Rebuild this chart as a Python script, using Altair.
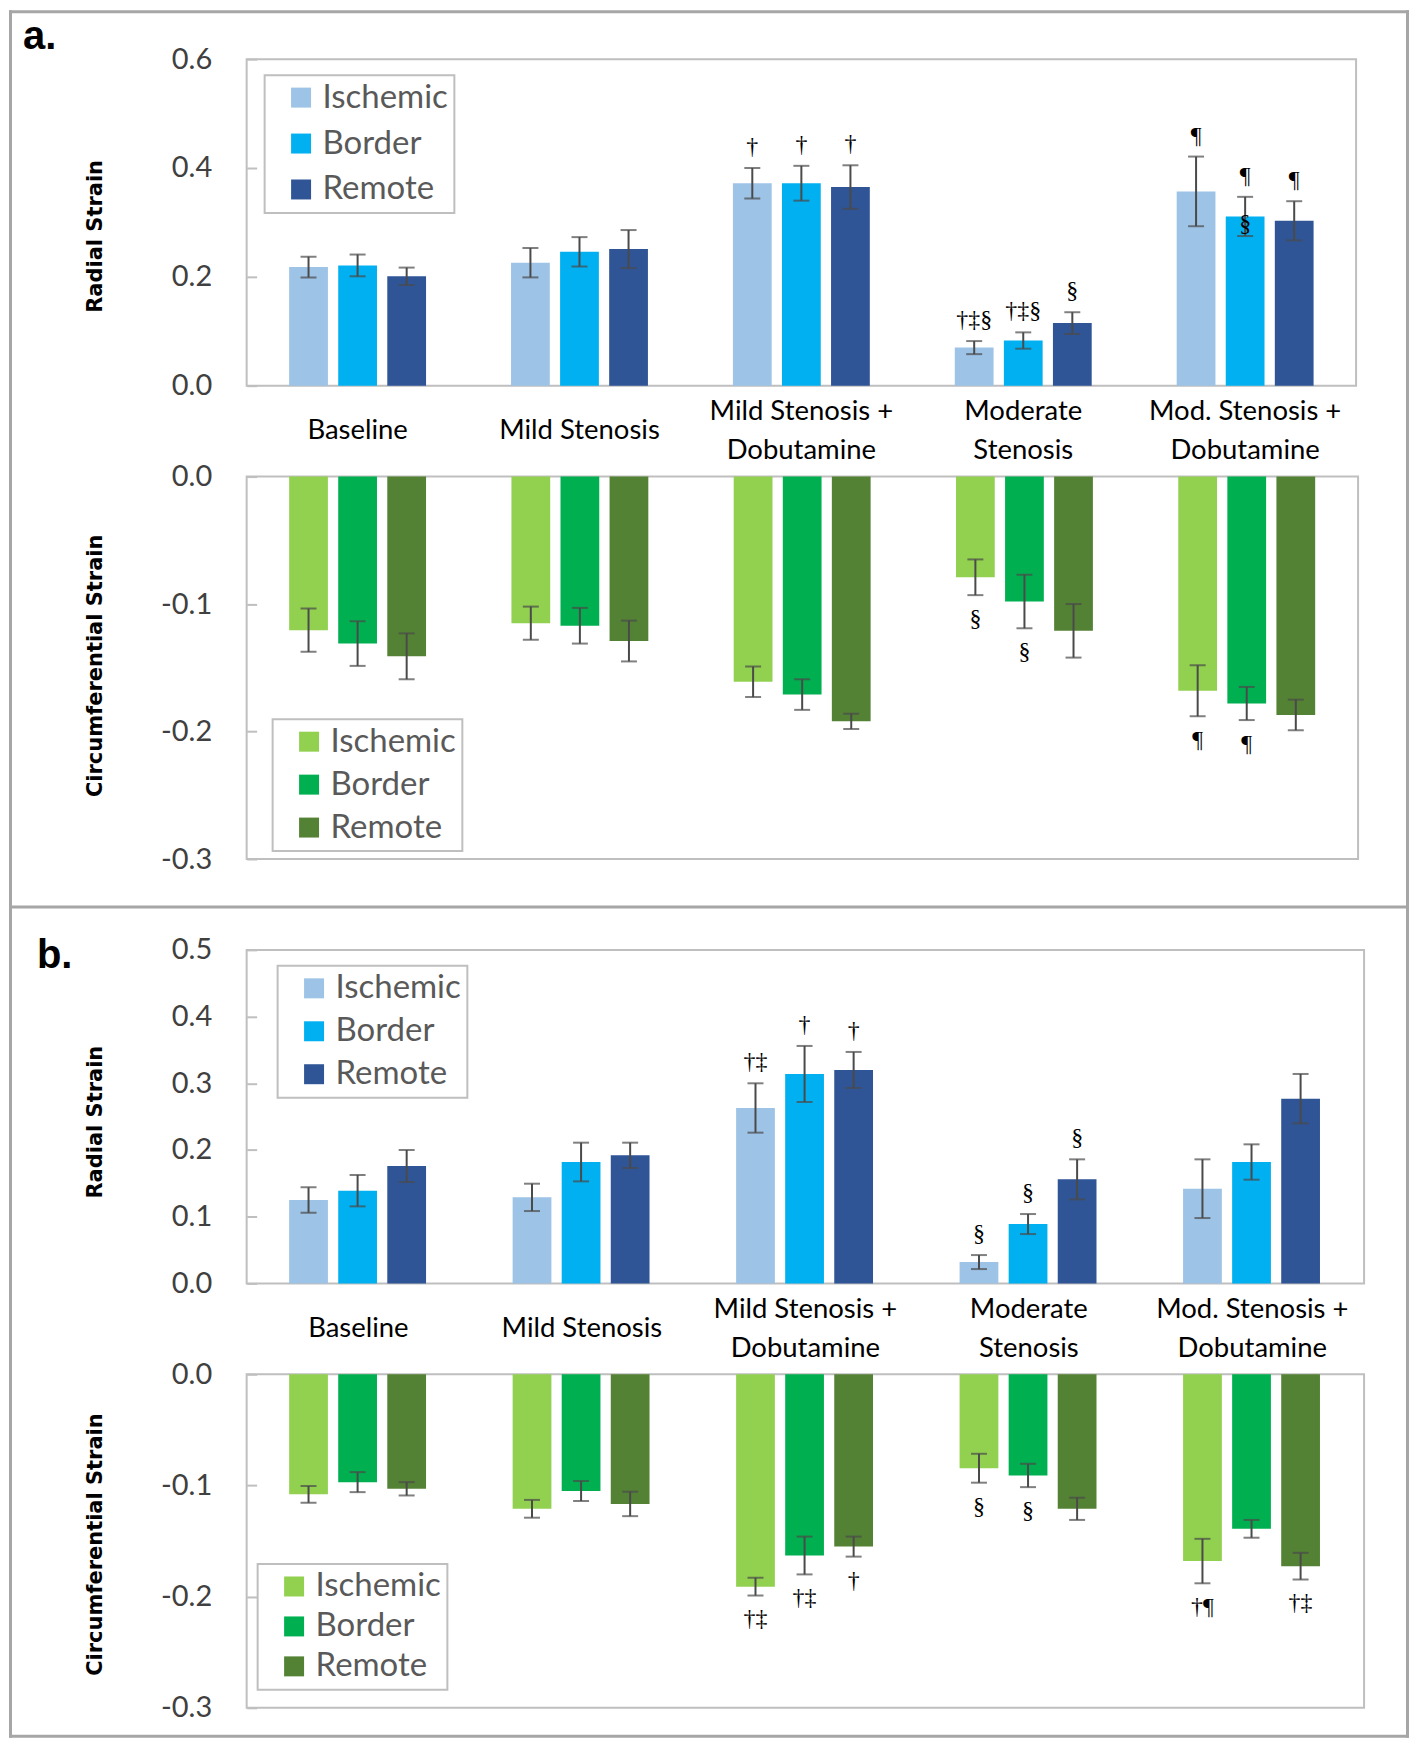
import altair as alt
import pandas as pd

cats = ["Baseline", "Mild Stenosis", "Mild Stenosis +|Dobutamine", "Moderate|Stenosis", "Mod. Stenosis +|Dobutamine"]
regions = ["Ischemic", "Border", "Remote"]

# order: for each category -> Ischemic, Border, Remote
a_rad_mean = [0.218, 0.221, 0.201, 0.226, 0.246, 0.251, 0.372, 0.372, 0.365, 0.070, 0.083, 0.115, 0.357, 0.311, 0.303]
a_rad_err = [0.019, 0.020, 0.016, 0.027, 0.027, 0.035, 0.028, 0.032, 0.040, 0.012, 0.015, 0.020, 0.064, 0.036, 0.036]

a_circ_mean = [-0.1205, -0.131, -0.141, -0.115, -0.117, -0.129, -0.161, -0.171, -0.192, -0.079, -0.098, -0.121, -0.168, -0.178, -0.187]
a_circ_err = [0.017, 0.0175, 0.018, 0.013, 0.014, 0.016, 0.012, 0.012, 0.006, 0.014, 0.021, 0.021, 0.020, 0.013, 0.012]

b_rad_mean = [0.125, 0.139, 0.176, 0.129, 0.182, 0.192, 0.263, 0.314, 0.320, 0.032, 0.089, 0.156, 0.142, 0.182, 0.277]
b_rad_err = [0.019, 0.0235, 0.024, 0.0205, 0.029, 0.019, 0.037, 0.042, 0.027, 0.0105, 0.015, 0.030, 0.044, 0.0265, 0.037]

b_circ_mean = [-0.108, -0.097, -0.103, -0.121, -0.105, -0.1166, -0.191, -0.163, -0.155, -0.0845, -0.091, -0.121, -0.168, -0.139, -0.1726]
b_circ_err = [0.0075, 0.009, 0.006, 0.008, 0.009, 0.011, 0.008, 0.017, 0.009, 0.013, 0.0105, 0.010, 0.020, 0.008, 0.012]

# annotations: (category index, region, symbol text, where)
a_rad_ann = [(2, "Ischemic", "†", "above"), (2, "Border", "†", "above"), (2, "Remote", "†", "above"),
             (3, "Ischemic", "†‡§", "above"), (3, "Border", "†‡§", "above"), (3, "Remote", "§", "above"),
             (4, "Ischemic", "¶", "above"), (4, "Border", "¶", "above"), (4, "Remote", "¶", "above"),
             (4, "Border", "§", "inside")]
a_circ_ann = [(3, "Ischemic", "§", "below"), (3, "Border", "§", "below"),
              (4, "Ischemic", "¶", "below"), (4, "Border", "¶", "below")]
b_rad_ann = [(2, "Ischemic", "†‡", "above"), (2, "Border", "†", "above"), (2, "Remote", "†", "above"),
             (3, "Ischemic", "§", "above"), (3, "Border", "§", "above"), (3, "Remote", "§", "above")]
b_circ_ann = [(2, "Ischemic", "†‡", "below"), (2, "Border", "†‡", "below"), (2, "Remote", "†", "below"),
              (3, "Ischemic", "§", "below"), (3, "Border", "§", "below"),
              (4, "Ischemic", "†¶", "below"), (4, "Remote", "†‡", "below")]

radial_colors = ["#9DC3E6", "#00B0F0", "#2F5597"]
circ_colors = ["#92D050", "#00B050", "#548235"]
ERR = "#4a4a4a"
FRAME = "#bfbfbf"
OUTER = "#a6a6a6"


def make_df(mean, err):
    rows = []
    for i, c in enumerate(cats):
        for j, r in enumerate(regions):
            k = i * 3 + j
            rows.append(dict(cat=c, region=r, mean=mean[k], lo=mean[k] - err[k], hi=mean[k] + err[k]))
    return pd.DataFrame(rows)


def make_ann(ann, df):
    rows = []
    for ci, r, txt, where in ann:
        row = df[(df.cat == cats[ci]) & (df.region == r)].iloc[0]
        y = row.hi if where == "above" else row.lo
        rows.append(dict(cat=cats[ci], region=r, txt=txt, where=where, y=y))
    return pd.DataFrame(rows)


def panel(mean, err, ann, domain, values, colors, width, height, legend_xy, row_pad,
          title, title_y, show_cats, extra=None):
    df = make_df(mean, err)
    adf = make_ann(ann, df)
    xscale = alt.Scale(paddingInner=0, paddingOuter=0)
    if show_cats:
        xaxis = alt.Axis(orient="bottom", title=None, domain=False, ticks=False, tickSize=0,
                         labelAngle=0, labelFont="Lato", labelFontSize=27.5, labelColor="black",
                         labelPadding=26, labelLineHeight=39, labelLimit=0,
                         labelBaseline={"condition": {"test": "indexof(datum.value, '|') >= 0",
                                                      "value": "middle"},
                                        "value": "line-top"},
                         labelExpr="split(datum.label, '|')")
    else:
        xaxis = None
    xo = alt.XOffset("region:N", sort=regions, scale=alt.Scale(paddingInner=0.21, paddingOuter=0.866))
    yscale = alt.Scale(domain=domain, nice=False)
    yaxis = alt.Axis(values=values, labelExpr="replace(format(datum.value, '.1f'), '\u2212', '-')",
                     title=title, titleFont="DejaVu Sans", titleFontSize=21, titleFontWeight="bold",
                     titleColor="black", titleX=-161, titleY=title_y, titleAngle=270,
                     titleAlign="center", titleBaseline="middle",
                     labelFont="Lato", labelFontSize=29, labelColor="#404040", labelPadding=35,
                     tickSize=10, tickColor=FRAME, tickWidth=2, domain=False, offset=-10, grid=False)
    X = alt.X("cat:N", sort=cats, scale=xscale, axis=xaxis)

    def Y(field):
        return alt.Y(field, scale=yscale, axis=yaxis, title=title)

    bars = alt.Chart(df).mark_bar().encode(
        x=X,
        xOffset=xo,
        y=Y("mean:Q"),
        color=alt.Color("region:N", sort=regions, scale=alt.Scale(domain=regions, range=colors),
                        legend=alt.Legend(orient="none", legendX=legend_xy[0], legendY=legend_xy[1],
                                          title=None, symbolType="square", symbolSize=400,
                                          symbolStrokeWidth=0, labelFont="Lato", labelFontSize=33,
                                          labelColor="#595959", labelOffset=5, rowPadding=row_pad,
                                          padding=6, strokeColor=FRAME, fillColor="white",
                                          symbolOffset=14)),
    )
    rules = alt.Chart(df).mark_rule(color=ERR, strokeWidth=2).encode(
        x=X, xOffset=xo, y=Y("lo:Q"), y2="hi:Q")
    caps = alt.Chart(df).transform_fold(["lo", "hi"], as_=["k", "v"]).mark_tick(
        color=ERR, size=16, thickness=2).encode(
        x=X, xOffset=xo, y=Y("v:Q"))
    layers = [bars, rules, caps]
    tfont = dict(font="Liberation Serif", fontSize=24, color="black")
    above = adf[adf["where"] == "above"]
    below = adf[adf["where"] == "below"]
    inside = adf[adf["where"] == "inside"]
    if len(above):
        layers.append(alt.Chart(above).mark_text(baseline="alphabetic", dy=-14, **tfont).encode(
            x=X, xOffset=xo, y=Y("y:Q"), text="txt:N"))
    if len(below):
        layers.append(alt.Chart(below).mark_text(baseline="top", dy=12, **tfont).encode(
            x=X, xOffset=xo, y=Y("y:Q"), text="txt:N"))
    if len(inside):
        layers.append(alt.Chart(inside).mark_text(baseline="bottom", dy=0, **tfont).encode(
            x=X, xOffset=xo, y=Y("y:Q"), text="txt:N"))
    if extra:
        layers.extend(extra)
    return alt.layer(*layers).properties(width=width, height=height)


one = pd.DataFrame({"t": ["a."]})


def strip(x1, x2, y1, y2):
    # filled strip (frame of the whole figure), positioned relative to the first panel's plot area
    return alt.Chart(one).mark_rect(color=OUTER).encode(
        x=alt.value(x1), x2=alt.value(x2), y=alt.value(y1), y2=alt.value(y2))


frame_parts = [
    strip(-238, -235, -49, 1681),
    strip(1161, 1164, -49, 1681),
    strip(-238, 1164, -49, -46),
    strip(-238, 1164, 1678, 1681),
    strip(-238, 1164, 847.5, 850.5),
]
label_a = alt.Chart(pd.DataFrame({"t": ["a."]})).mark_text(
    font="Liberation Sans", fontSize=40, fontWeight="bold", align="left", baseline="alphabetic",
    color="black").encode(x=alt.value(-224), y=alt.value(-10), text="t:N")
label_b = alt.Chart(pd.DataFrame({"t": ["b."]})).mark_text(
    font="Liberation Sans", fontSize=40, fontWeight="bold", align="left", baseline="alphabetic",
    color="black").encode(x=alt.value(-210), y=alt.value(18), text="t:N")

ra = panel(a_rad_mean, a_rad_err, a_rad_ann, [0, 0.6], [0, 0.2, 0.4, 0.6], radial_colors,
           1111, 327, (18, 16), 12, "Radial Strain", 177, True, frame_parts + [label_a])
ca = panel(a_circ_mean, a_circ_err, a_circ_ann, [-0.3, 0], [-0.3, -0.2, -0.1, 0.0], circ_colors,
           1113, 383, (26, 243), 9, "Circumferential Strain", 189, False)
rb = panel(b_rad_mean, b_rad_err, b_rad_ann, [0, 0.5], [0, 0.1, 0.2, 0.3, 0.4, 0.5], radial_colors,
           1119, 334, (31, 16), 9, "Radial Strain", 172, True, [label_b])
cb = panel(b_circ_mean, b_circ_err, b_circ_ann, [-0.3, 0], [-0.3, -0.2, -0.1, 0.0], circ_colors,
           1119, 334, (11, 190), 6, "Circumferential Strain", 170, False)

chart = alt.vconcat(ra, ca, rb, cb, spacing=91, bounds="flush").resolve_scale(
    color="independent", x="independent", y="independent"
).properties(
    padding={"left": 0, "top": 0, "right": 0, "bottom": 0}
).configure_view(stroke=FRAME, strokeWidth=2).configure_legend(strokeWidth=2)

chart.save("out.html", embed_options={"renderer": "svg", "actions": False})
